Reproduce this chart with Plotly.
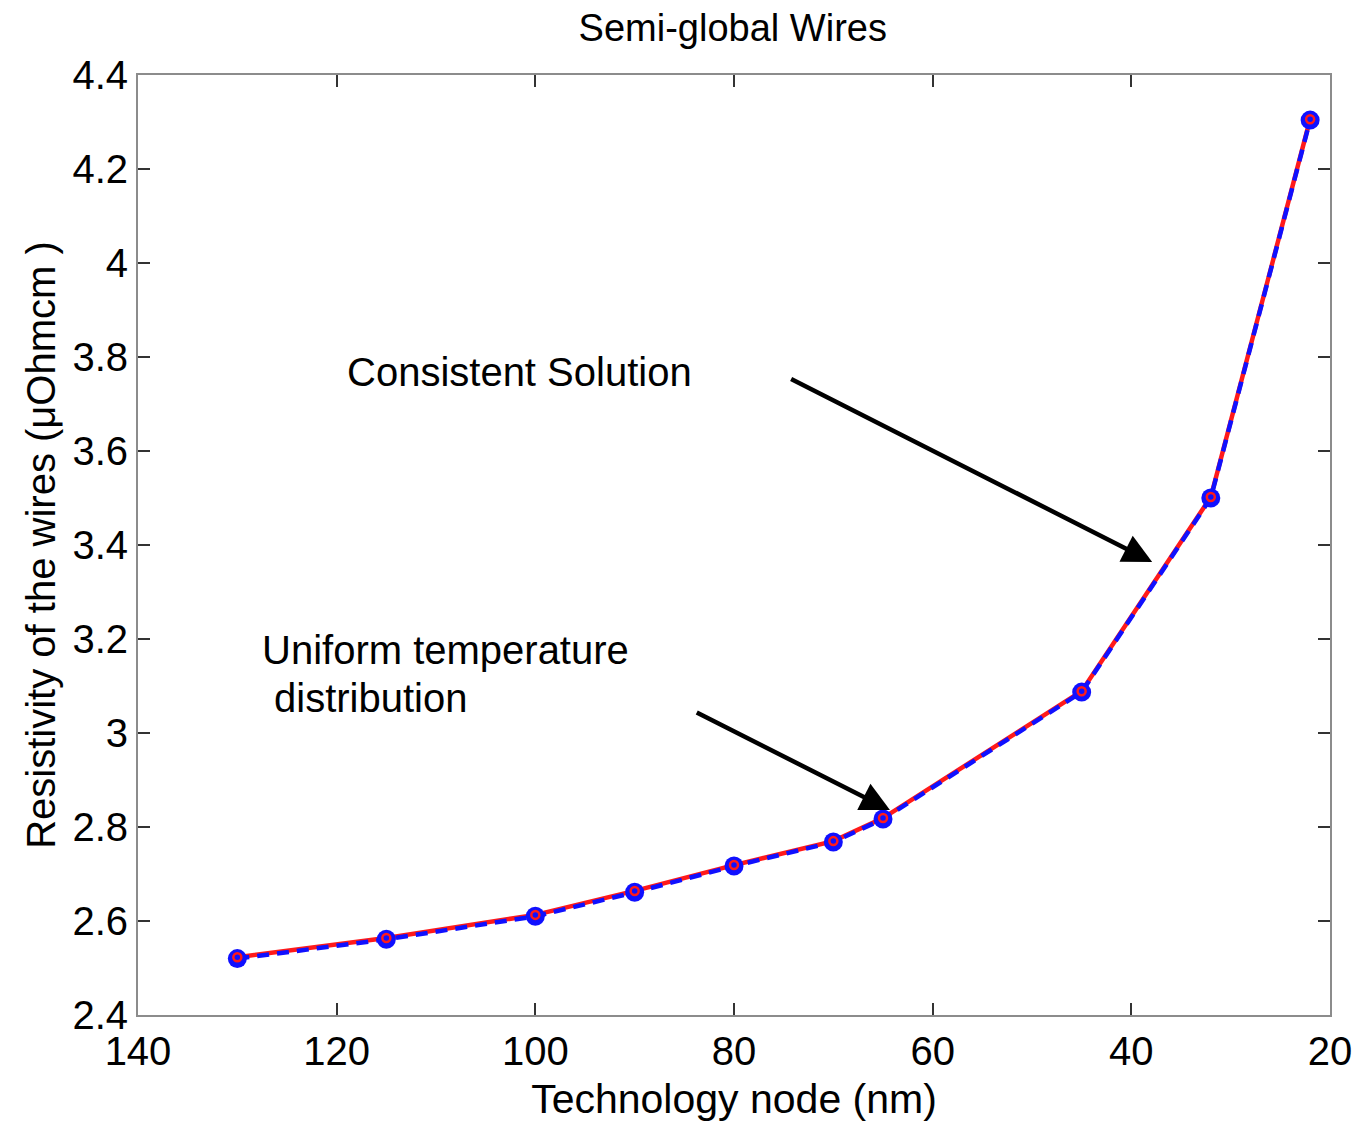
import plotly.graph_objects as go

nodes = [130, 115, 100, 90, 80, 70, 65, 45, 32, 22]
consistent = [2.523, 2.564, 2.613, 2.664, 2.719, 2.770, 2.819, 3.089, 3.502, 4.306]
uniform = [2.520, 2.561, 2.610, 2.661, 2.717, 2.768, 2.817, 3.087, 3.500, 4.304]
x_ticks = [140, 120, 100, 80, 60, 40, 20]
y_ticks = [2.4, 2.6, 2.8, 3.0, 3.2, 3.4, 3.6, 3.8, 4.0, 4.2, 4.4]
y_ticktext = ["2.4", "2.6", "2.8", "3", "3.2", "3.4", "3.6", "3.8", "4", "4.2", "4.4"]

FONT = "Liberation Sans, Arial, sans-serif"

fig = go.Figure()
fig.add_trace(go.Scatter(x=nodes, y=consistent, mode="lines",
                         line=dict(color="#ff1a1a", width=4.5), showlegend=False))
fig.add_trace(go.Scatter(x=nodes, y=uniform, mode="lines+markers",
                         line=dict(color="#1010ff", width=4.5, dash="12px,8px"),
                         marker=dict(symbol="circle", size=19, color="#1010ff"),
                         showlegend=False))
fig.add_trace(go.Scatter(x=nodes, y=consistent, mode="markers",
                         marker=dict(symbol="circle-open", size=8, color="#ff1a1a",
                                     line=dict(width=2.5, color="#ff1a1a")),
                         showlegend=False))

arrow_style = dict(showarrow=True, arrowhead=2, arrowsize=1.3, arrowwidth=4.5,
                   arrowcolor="black", axref="x", ayref="y", xref="x", yref="y", text="")
fig.add_annotation(x=37.9, y=3.364, ax=74.4, ay=3.755, **arrow_style)
fig.add_annotation(x=64.3, y=2.836, ax=83.9, ay=3.045, **arrow_style)

txt = dict(showarrow=False, xref="x", yref="y", xanchor="left", yanchor="middle",
           font=dict(family=FONT, size=40, color="black"))
fig.add_annotation(x=119.2, y=3.768, text="Consistent Solution", **txt)
fig.add_annotation(x=127.7, y=3.177, text="Uniform temperature", **txt)
fig.add_annotation(x=126.5, y=3.074, text="distribution", **txt)

axis_common = dict(showline=True, linecolor="#8c8c8c", linewidth=2, mirror="ticks",
                   ticks="inside", ticklen=12, tickwidth=1.5, tickcolor="#333333",
                   showgrid=False, zeroline=False, automargin=False,
                   tickfont=dict(family=FONT, size=40, color="black"))

fig.update_xaxes(range=[140, 20], tickvals=x_ticks, ticktext=[str(v) for v in x_ticks],
                 title=dict(text="Technology node (nm)", standoff=14,
                            font=dict(family=FONT, size=41, color="black")),
                 ticklabelstandoff=0, **axis_common)
fig.update_yaxes(range=[2.4, 4.4], tickvals=y_ticks, ticktext=y_ticktext,
                 title=dict(text="Resistivity of the wires (μOhmcm )", standoff=4,
                            font=dict(family=FONT, size=40, color="black")),
                 **axis_common)

fig.update_layout(
    width=1357, height=1122,
    margin=dict(l=138, r=27, t=75, b=107),
    plot_bgcolor="white", paper_bgcolor="white",
    title=dict(text="Semi-global Wires", x=0.54, xanchor="center", y=0.975, yanchor="middle",
               font=dict(family=FONT, size=38, color="black")),
)

fig.write_html("out.html")
